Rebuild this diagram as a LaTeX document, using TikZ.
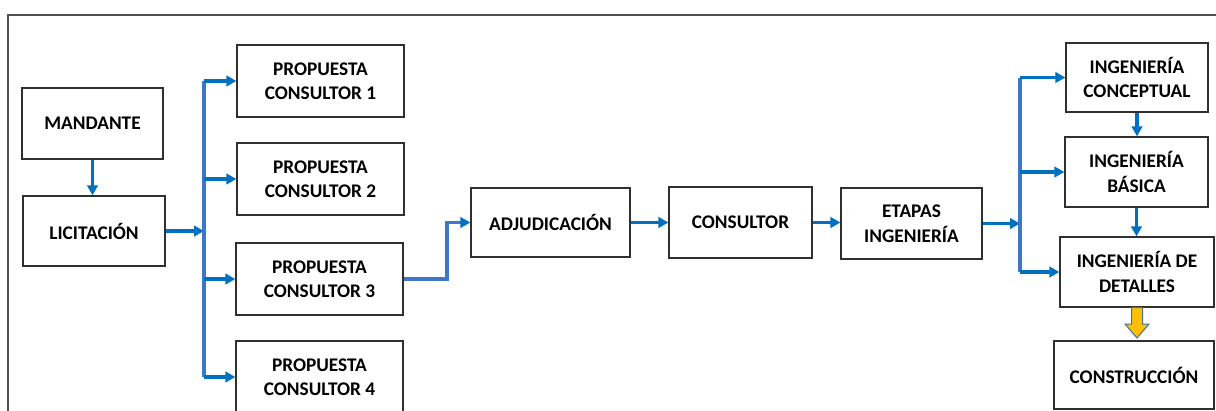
\documentclass[tikz,border=0pt]{standalone}
\usepackage{fontspec}
\setmainfont{Carlito}
\usetikzlibrary{arrows.meta}
\definecolor{flowblue}{HTML}{0070C0}
\definecolor{busblue}{HTML}{3F76C6}
\definecolor{boxline}{HTML}{303030}
\definecolor{blockfill}{HTML}{FFC000}
\definecolor{blockline}{HTML}{41719C}
\begin{document}
\begin{tikzpicture}[x=1pt,y=-1pt,
  box/.style={draw=boxline,line width=1.3pt,fill=white,align=center,inner sep=0pt,
    font=\bfseries\fontsize{19.3}{24.5}\selectfont},
  flow/.style={draw=flowblue,line width=3.2pt,-{Triangle[length=10pt,width=10.5pt]}},
  bus/.style={draw=busblue,line width=3.2pt},
  busarrow/.style={draw=busblue,line width=3.2pt,-{Triangle[length=10pt,width=10.5pt,color=flowblue]}}]
\clip (0,0) rectangle (1216,410);
\fill[white] (0,0) rectangle (1216,410);
% outer frame (runs past the page on the right and bottom)
\draw[draw=boxline!85,line width=1.5pt] (8,15) rectangle (1240,440);

% nodes
\node[box,minimum width=141pt,minimum height=71pt] (mand) at (92.5,123.5) {MANDANTE};
\node[box,minimum width=142pt,minimum height=70pt] (lic) at (94,231) {LICITACIÓN};
\node[box,minimum width=167pt,minimum height=72pt] (p1) at (320.5,81) {PROPUESTA\\CONSULTOR 1};
\node[box,minimum width=167pt,minimum height=72pt] (p2) at (320.5,179) {PROPUESTA\\CONSULTOR 2};
\node[box,minimum width=167pt,minimum height=72pt] (p3) at (319.5,279) {PROPUESTA\\CONSULTOR 3};
\node[box,minimum width=167pt,minimum height=72pt] (p4) at (319.5,377) {PROPUESTA\\CONSULTOR 4};
\node[box,minimum width=159pt,minimum height=69pt] (adj) at (550.5,222.5) {ADJUDICACIÓN};
\node[box,minimum width=143pt,minimum height=71pt] (cons) at (740.5,222.5) {CONSULTOR};
\node[box,minimum width=141pt,minimum height=71pt] (etap) at (911.5,223.5) {ETAPAS\\INGENIERÍA};
\node[box,minimum width=142pt,minimum height=69pt] (ic) at (1137,77.5) {INGENIERÍA\\CONCEPTUAL};
\node[box,minimum width=143pt,minimum height=70pt] (ib) at (1136.5,172) {INGENIERÍA\\BÁSICA};
\node[box,minimum width=154pt,minimum height=70pt] (id) at (1137,272) {INGENIERÍA DE\\DETALLES};
\node[box,minimum width=160pt,minimum height=68pt] (con) at (1134,375) {CONSTRUCCIÓN};

% bus lines
\coordinate (busA) at (204,0);
\coordinate (jog) at (447,0);
\coordinate (busB) at (1020,0);

\draw[flow] (mand.south) -- (mand.south |- lic.north);
\draw[flow] (lic.east) -- (lic.east -| busA);
\draw[bus] (p1.west -| busA) -- (p4.west -| busA);
\foreach \p in {p1,p2,p3,p4}
  \draw[flow] (\p.west -| busA) -- (\p.west);

\draw[busarrow] (p3.east) -- (p3.east -| jog) |- (adj.west);
\draw[flow] (adj.east) -- (adj.east -| cons.west);
\draw[flow] (cons.east) -- (cons.east -| etap.west);

\draw[flow] (etap.east) -- (etap.east -| busB);
\draw[bus] (ic.west -| busB) -- (id.west -| busB);
\foreach \p in {ic,ib,id}
  \draw[flow] (\p.west -| busB) -- (\p.west);
\draw[flow] (ic.south) -- (ic.south |- ib.north);
\draw[flow] (ib.south) -- (ib.south |- id.north);

% block arrow towards construction
\draw[fill=blockfill,draw=blockline,line width=1pt,line join=miter]
  ([xshift=-5.5pt]id.south) -- ([xshift=5.5pt]id.south)
  -- ([xshift=5.5pt]id.south |- 0,324) -- ([xshift=12pt]id.south |- 0,324)
  -- (id.south |- 0,338) -- ([xshift=-12pt]id.south |- 0,324)
  -- ([xshift=-5.5pt]id.south |- 0,324) -- cycle;
\end{tikzpicture}
\end{document}
